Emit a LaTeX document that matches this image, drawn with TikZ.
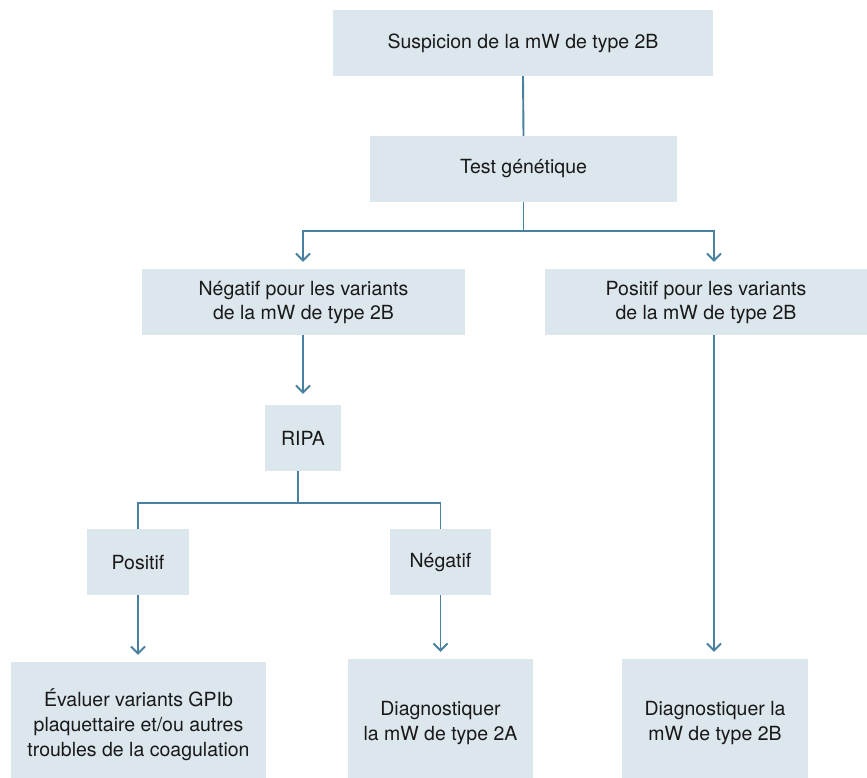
\documentclass[tikz,border=0pt]{standalone}
\usepackage{fontspec}
\setmainfont{TeX Gyre Heros}
\usetikzlibrary{arrows.meta,calc}
\definecolor{lineblue}{RGB}{72,128,160}
\definecolor{boxfill}{RGB}{220,230,237}
\definecolor{txt}{RGB}{25,25,25}
\begin{document}
\begin{tikzpicture}[x=1pt,y=-1pt,
  box/.style={fill=boxfill,draw=none,inner sep=0pt,align=center,text=txt,
    font=\fontsize{19.5}{24}\selectfont},
  tallbox/.style={box,font=\fontsize{19.5}{25}\selectfont},
  conn/.style={draw=lineblue,line width=1.9pt},
  arr/.style={conn,-{Straight Barb[length=7pt,width=14pt,line width=1.9pt]},shorten >=7pt}]
\useasboundingbox (0,0) rectangle (867,777);
% boxes
\node[box,minimum width=380,minimum height=66] (top) at (523,43) {Suspicion de la mW de type 2B};
\node[box,minimum width=307,minimum height=66] (test) at (523.5,169) {Test génétique};
\node[box,minimum width=323,minimum height=66] (neg) at (303.5,302) {Négatif pour les variants\\de la mW de type 2B};
\node[box,minimum width=322,minimum height=66] (pos) at (706,302) {Positif pour les variants\\de la mW de type 2B};
\node[box,minimum width=76,minimum height=66] (ripa) at (303,438) {RIPA};
\node[box,minimum width=102,minimum height=66] (posr) at (138,562) {Positif};
\node[box,minimum width=101,minimum height=66] (negr) at (440.5,562) {Négatif};
\node[tallbox,minimum width=255,minimum height=125] (eval) at (138.5,724.5) {Évaluer variants GPIb\\plaquettaire et/ou autres\\troubles de la coagulation};
\node[tallbox,minimum width=185,minimum height=128] (diaga) at (440.5,723) {Diagnostiquer\\la mW de type 2A};
\node[tallbox,minimum width=186,minimum height=128] (diagb) at (715,723) {Diagnostiquer la\\mW de type 2B};
% connectors
\draw[conn] (top.south) -- (test.south |- test.north);
\coordinate (split1) at ($(test.south)+(0,29)$);
\draw[conn] (test.south) -- (split1);
\draw[arr] (split1) -| ([xshift=-0.5pt]neg.north);
\draw[arr] (split1) -| ([xshift=8pt]pos.north);
\draw[arr,shorten >=11pt] ([xshift=-0.5pt]neg.south) -- (ripa.north);
\coordinate (split2) at ($(ripa.south)+(-5,32)$);
\draw[conn] ([xshift=-5pt]ripa.south) -- (split2);
\draw[conn] (split2) -| (posr.north);
\draw[conn] (split2) -| (negr.north);
\draw[arr] (posr.south) -- (posr.south |- eval.north);
\draw[arr] (negr.south) -- (negr.south |- diaga.north);
\draw[arr] ([xshift=8pt]pos.south) -- ([xshift=8pt]pos.south |- diagb.north);
\end{tikzpicture}
\end{document}
